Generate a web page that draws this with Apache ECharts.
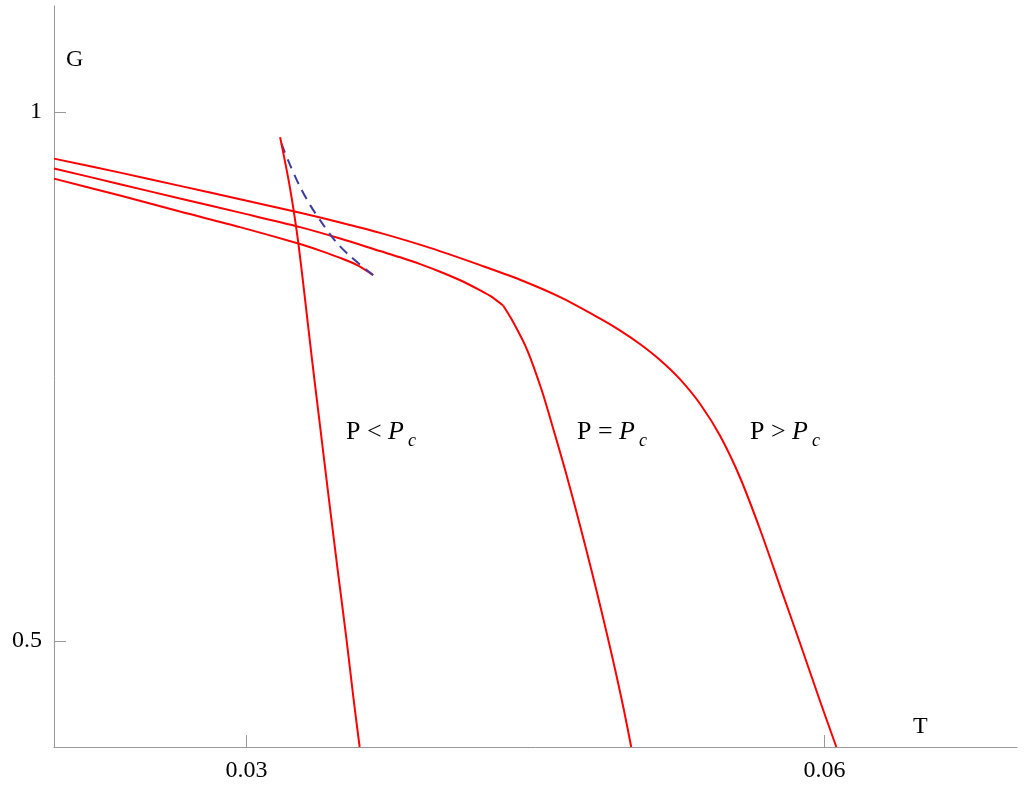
<!DOCTYPE html>
<html>
<head>
<meta charset="utf-8">
<title>G vs T</title>
<script src="https://cdn.jsdelivr.net/npm/echarts@6/dist/echarts.min.js"></script>
<style>
  html, body { margin: 0; padding: 0; background: #fff; }
  #chart { width: 1024px; height: 790px; }
</style>
</head>
<body>
<div id="chart"></div>
<script>
// axis ticks
const tTicks = [0.03, 0.06]
const gTicks = [0.5, 1]

// P > Pc
const tHigh = [0.02000, 0.02343, 0.02654, 0.02966, 0.03278, 0.03486, 0.03693, 0.03953, 0.04213, 0.04420, 0.04628, 0.04836, 0.04940, 0.05044, 0.05148, 0.05251, 0.05355, 0.05459, 0.05563, 0.05667, 0.05771, 0.05875, 0.05979, 0.06062]
const gHigh = [0.9558, 0.9426, 0.9301, 0.9174, 0.9046, 0.8955, 0.8857, 0.8715, 0.8552, 0.8414, 0.8250, 0.8047, 0.7934, 0.7805, 0.7654, 0.7473, 0.7240, 0.6937, 0.6541, 0.6050, 0.5511, 0.4973, 0.4425, 0.4000]

// P = Pc, before and after the kink
const tCritA = [0.02000, 0.02343, 0.02654, 0.02966, 0.03278, 0.03486, 0.03693, 0.03797, 0.03901, 0.04005, 0.04109, 0.04213, 0.04265, 0.04332]
const gCritA = [0.9465, 0.9317, 0.9181, 0.9048, 0.8911, 0.8803, 0.8685, 0.8626, 0.8562, 0.8490, 0.8409, 0.8314, 0.8261, 0.8170]
const tCritB = [0.04332, 0.04384, 0.04457, 0.04532, 0.04594, 0.04654, 0.04710, 0.04764, 0.04816, 0.04866, 0.04914, 0.04959, 0.04997]
const gCritB = [0.8170, 0.8014, 0.7750, 0.7372, 0.6994, 0.6616, 0.6238, 0.5861, 0.5483, 0.5105, 0.4727, 0.4349, 0.4000]

// P < Pc: small branch, unstable branch (dashed), large branch
const tSmall = [0.02000, 0.02343, 0.02654, 0.02966, 0.03278, 0.03382, 0.03486, 0.03574, 0.03657]
const gSmall = [0.9369, 0.9209, 0.9058, 0.8911, 0.8751, 0.8689, 0.8620, 0.8552, 0.8458]
const tUnstable = [0.03657, 0.03543, 0.03465, 0.03392, 0.03330, 0.03273, 0.03226, 0.03184, 0.03174]
const gUnstable = [0.8458, 0.8628, 0.8770, 0.8949, 0.9119, 0.9308, 0.9497, 0.9686, 0.9761]
const tLarge = [0.03174, 0.03218, 0.03244, 0.03270, 0.03304, 0.03340, 0.03384, 0.03428, 0.03473, 0.03519, 0.03556, 0.03587]
const gLarge = [0.9761, 0.9355, 0.9072, 0.8741, 0.8222, 0.7655, 0.6994, 0.6333, 0.5672, 0.5011, 0.4444, 0.4000]

const serif = '"Liberation Serif", "DejaVu Serif", serif'
const red = '#ff0000'

function pairs(xs, ys) {
  return xs.map((x, i) => [x, ys[i]])
}

function curve(xs, ys, extra) {
  return Object.assign({
    type: 'line',
    data: pairs(xs, ys),
    showSymbol: false,
    smooth: 0.3,
    lineStyle: { color: red, width: 2 },
    silent: true
  }, extra || {})
}

const chart = echarts.init(document.getElementById('chart'), null, { renderer: 'canvas' })

// label with italic P and lowered subscript c
function pLabel(x, sign) {
  return {
    type: 'text',
    left: x,
    top: 419,
    style: {
      text: '{n|P ' + sign + ' }{i|P}{s|c}',
      fill: '#000',
      rich: {
        n: { fontFamily: serif, fontSize: 26, lineHeight: 26, verticalAlign: 'top', fill: '#000' },
        i: { fontFamily: serif, fontSize: 26, lineHeight: 26, fontStyle: 'italic', verticalAlign: 'top', fill: '#000' },
        s: { fontFamily: serif, fontSize: 18, lineHeight: 18, fontStyle: 'italic', verticalAlign: 'top', fill: '#000', padding: [13, 0, 0, 4] }
      }
    }
  }
}

const axisCommon = {
  type: 'value',
  axisLine: { show: true, onZero: false, lineStyle: { color: '#999', width: 1 } },
  axisTick: { show: true, inside: true, length: 12, lineStyle: { color: '#999' } },
  splitLine: { show: false },
  axisLabel: { color: '#000', fontFamily: serif, fontSize: 24 },
  nameTextStyle: { color: '#000', fontFamily: serif, fontSize: 24 }
}

const option = {
  animation: false,
  backgroundColor: '#fff',
  grid: { left: 54, right: 7, top: 6, bottom: 43 },
  xAxis: Object.assign({}, axisCommon, {
    min: 0.02,
    max: 0.07,
    name: 'T',
    nameLocation: 'end',
    nameGap: -104,
    nameTextStyle: Object.assign({}, axisCommon.nameTextStyle, { align: 'left', verticalAlign: 'bottom', padding: [0, 0, 8, 0] }),
    axisTick: Object.assign({}, axisCommon.axisTick, { customValues: tTicks }),
    axisLabel: Object.assign({}, axisCommon.axisLabel, { customValues: tTicks, margin: 12 })
  }),
  yAxis: Object.assign({}, axisCommon, {
    min: 0.4,
    max: 1.1,
    name: 'G',
    nameLocation: 'end',
    nameGap: -66,
    nameTextStyle: Object.assign({}, axisCommon.nameTextStyle, { align: 'left', verticalAlign: 'bottom', padding: [0, 0, 0, 12] }),
    axisTick: Object.assign({}, axisCommon.axisTick, { customValues: gTicks }),
    axisLabel: Object.assign({}, axisCommon.axisLabel, { customValues: gTicks, margin: 12, padding: [6, 0, 0, 0] })
  }),
  graphic: [
    pLabel(346, '<'),
    pLabel(577, '='),
    pLabel(750, '>')
  ],
  series: [
    curve(tHigh, gHigh),
    curve(tCritA, gCritA),
    curve(tCritB, gCritB),
    curve(tSmall, gSmall),
    curve(tUnstable, gUnstable, { lineStyle: { color: '#3c3c9c', width: 2, type: [10, 7] } }),
    curve(tLarge, gLarge)
  ]
}

chart.setOption(option)
</script>
</body>
</html>
